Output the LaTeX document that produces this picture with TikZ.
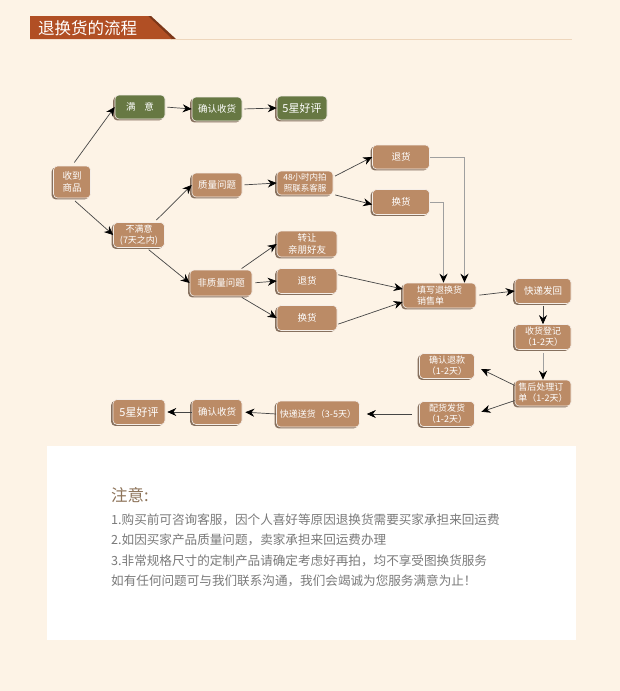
\documentclass[tikz,border=0pt]{standalone}
\usepackage{fontspec}
\setmainfont{Noto Sans CJK SC}
\usetikzlibrary{arrows.meta,shadows,calc}
\definecolor{bgc}{HTML}{FDF3E6}
\definecolor{boxc}{HTML}{BB8B66}
\definecolor{greenc}{HTML}{677843}
\definecolor{shadc}{HTML}{7A6250}
\definecolor{headc}{HTML}{B14F24}
\definecolor{linec}{HTML}{454545}
\definecolor{notec}{HTML}{7A7A7A}
\begin{document}
\begin{tikzpicture}[x=1pt,y=-1pt,
  box/.style={rounded corners=4pt, fill=boxc, draw=white!85!boxc, line width=0.6pt,
    text=white, align=center, inner sep=0pt, minimum height=24pt, minimum width=50pt,
    font=\fontsize{9.5}{11.5}\selectfont,
    drop shadow={shadow xshift=-1.8pt, shadow yshift=-1.4pt, fill=shadc, opacity=0.9}},
  gbox/.style={box, fill=greenc},
  arr/.style={draw=linec, line width=0.7pt, -{Stealth[length=9pt,width=8pt,color=black,fill=black]}},
  varr/.style={draw=gray!75, line width=1pt, -{Stealth[length=9pt,width=8pt,color=black,fill=black]}}
]
\useasboundingbox (0,0) rectangle (620,691);
\fill[bgc] (0,0) rectangle (620,691);
% header
\fill[headc!70!black] (146,16) -- (151,16) -- (176,39) -- (171,39) -- cycle;
\fill[headc] (30,16) -- (148,16) -- (172,39) -- (30,39) -- cycle;
\draw[draw=brown!25!bgc, line width=0.8pt] (172,39.3) -- (572,39.3);
\node[text=white, anchor=west, inner sep=0pt, font=\fontsize{16.5}{18}\selectfont] (title) at (38,28) {退换货的流程};
% nodes
\node[box, minimum width=37pt, minimum height=32pt] (rcv) at (72,182) {收到\\商品};
\node[gbox] (my) at (140,107) {满\hspace{0.9em}意};
\node[gbox] (qr1) at (217,109) {确认收货};
\node[gbox, font=\fontsize{11}{12}\selectfont] (hp1) at (302,108) {5星好评};
\node[box, minimum width=51pt, minimum height=25pt, font=\fontsize{9}{10.5}\selectfont] (bmy) at (139,235) {不满意\\(7天之内)};
\node[box] (zl) at (217,185) {质量问题};
\node[box, minimum width=56pt, font=\fontsize{8.5}{10.5}\selectfont] (h48) at (305,183) {48小时内拍\\照联系客服};
\node[box, minimum width=57pt] (th1) at (401,157) {退货};
\node[box, minimum width=57pt, minimum height=25pt] (hh1) at (401,202) {换货};
\node[box, minimum width=62pt, minimum height=26pt] (fzl) at (221,283) {非质量问题};
\node[box, minimum width=60pt, minimum height=26pt] (zr) at (307,244) {转让\\亲朋好友};
\node[box, minimum width=60pt, minimum height=25pt] (th2) at (307,281) {退货};
\node[box, minimum width=60pt, minimum height=25pt] (hh2) at (307,318) {换货};
\node[box, minimum width=73pt, minimum height=25pt, align=left, font=\fontsize{9}{11}\selectfont] (tx) at (439.5,295.5) {填写退换货\\销售单};
\node[box, minimum width=56pt, minimum height=25pt] (kd) at (543,291) {快递发回};
\node[box, minimum width=56pt, minimum height=25pt, font=\fontsize{9}{11}\selectfont] (sh) at (543,337) {收货登记\\（1-2天）};
\node[box, minimum width=56pt, minimum height=26pt, align=left, font=\fontsize{9}{11}\selectfont] (ss) at (543,393) {售后处理订\\单（1-2天）};
\node[box, minimum width=55pt, minimum height=25pt, font=\fontsize{9}{11}\selectfont] (qrtk) at (447,366) {确认退款\\（1-2天）};
\node[box, minimum width=55pt, minimum height=25pt, font=\fontsize{9}{11}\selectfont] (ph) at (447,414) {配货发货\\（1-2天）};
\node[box, minimum width=83pt, minimum height=26pt, font=\fontsize{9}{11}\selectfont] (ks) at (318,414) {快递送货（3-5天）};
\node[box, minimum height=25pt] (qr2) at (217,412) {确认收货};
\node[box, minimum width=52pt, minimum height=25pt, font=\fontsize{11}{12}\selectfont] (hp2) at (139,412) {5星好评};
% connectors
\draw[arr, shorten <=4pt] (rcv.north) -- (my.west);
\draw[arr, shorten <=4pt] (rcv.south) -- (bmy.west);
\draw[arr, shorten <=2pt] (my.east) -- (qr1.west);
\draw[arr, shorten <=2pt] (qr1.east) -- (hp1.west);
\draw[arr, shorten <=3pt] (bmy.40) -- (zl.west);
\draw[arr, shorten <=3pt] (bmy.-60) -- (fzl.west);
\draw[arr, shorten <=2pt] (zl.east) -- (h48.west);
\draw[arr, shorten <=2pt] (h48.12) -- (th1.west);
\draw[arr, shorten <=2pt] (h48.-22) -- (hh1.185);
\draw[varr] (th1.east) -| ($(tx.north)+(25,0)$);
\draw[varr] (hh1.east) -| ($(tx.north)+(4,0)$);
\draw[arr, shorten <=2pt] (fzl.35) -- (zr.west);
\draw[arr, shorten <=3pt] (fzl.east) -- (th2.west);
\draw[arr, shorten <=2pt] (fzl.-35) -- (hh2.west);
\draw[arr, shorten <=1pt] (th2.12) -- (tx.170);
\draw[arr, shorten <=1pt] (hh2.-12) -- (tx.190);
\draw[arr, shorten <=3pt] (tx.east) -- (kd.west);
\draw[arr, shorten <=2pt] (kd.south) -- (sh.north);
\draw[varr, shorten <=3pt] (sh.south) -- (ss.north);
\draw[arr, shorten >=7pt] (ss.165) -- (qrtk.east);
\draw[arr, shorten >=7pt] (ss.195) -- (ph.east);
\draw[arr, shorten <=7pt, shorten >=7pt] (ph.west) -- (ks.east);
\draw[arr, shorten >=3pt] (ks.west) -- (qr2.east);
\draw[arr, shorten >=2pt] (qr2.west) -- (hp2.east);
% notes panel
\fill[white] (47,446) rectangle (576,640);
\node[anchor=west, inner sep=0pt, text=brown!45!gray!90!black, font=\fontsize{16.5}{18}\selectfont] (zy) at (111,495) {注意:};
\node[anchor=west, inner sep=0pt, text=notec, font=\fontsize{12.6}{14}\selectfont] (n1) at (111,519.5) {1.购买前可咨询客服，因个人喜好等原因退换货需要买家承担来回运费};
\node[anchor=west, inner sep=0pt, text=notec, font=\fontsize{12.6}{14}\selectfont] (n2) at (111,540) {2.如因买家产品质量问题，卖家承担来回运费办理};
\node[anchor=west, inner sep=0pt, text=notec, font=\fontsize{12.6}{14}\selectfont] (n3) at (111,560.5) {3.非常规格尺寸的定制产品请确定考虑好再拍，均不享受图换货服务};
\node[anchor=west, inner sep=0pt, text=notec, font=\fontsize{12.6}{14}\selectfont] (n4) at (111,581) {如有任何问题可与我们联系沟通，我们会竭诚为您服务满意为止！};
\end{tikzpicture}
\end{document}
